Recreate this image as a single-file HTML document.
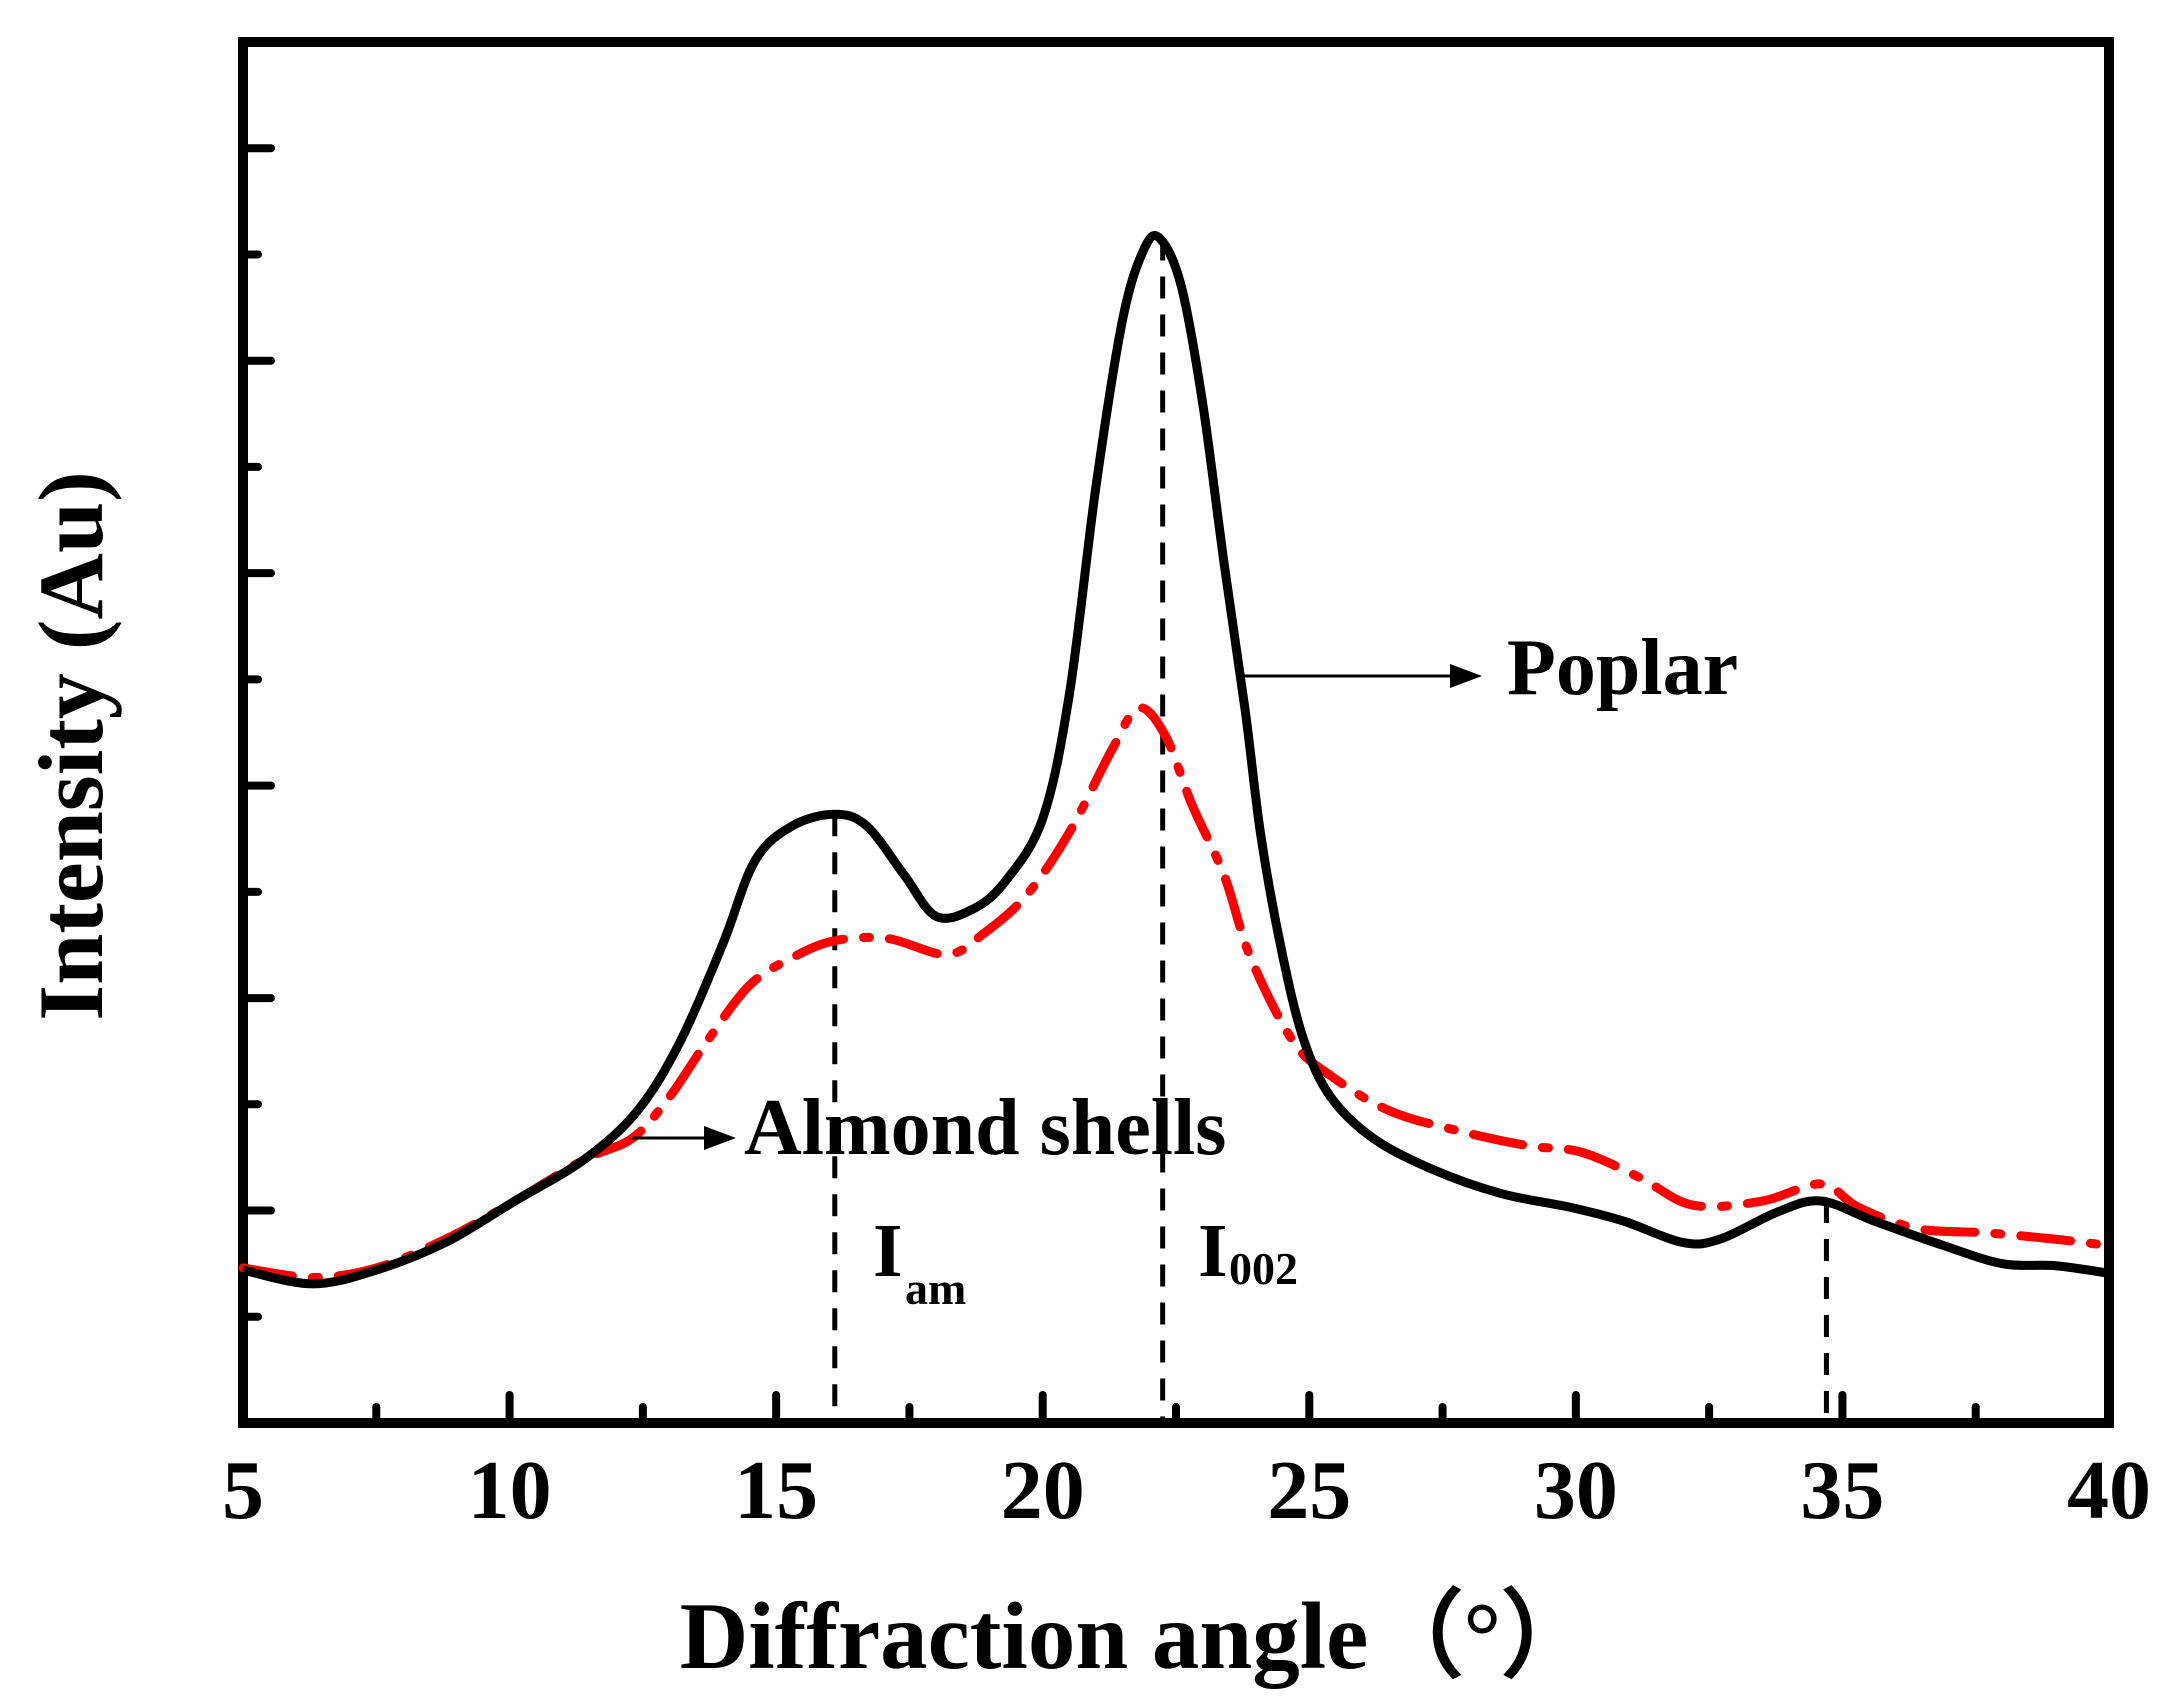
<!DOCTYPE html>
<html><head><meta charset="utf-8"><style>
html,body{margin:0;padding:0;background:#fff}
svg{display:block}
text{font-family:"Liberation Serif","Times New Roman",serif;font-weight:bold;fill:#000}
</style></head><body>
<svg id="chart" width="2169" height="1707" viewBox="0 0 2169 1707" xmlns="http://www.w3.org/2000/svg">
<g id="axes"></g>
<g id="series"></g>
<g id="labels"></g>
</svg>
<script>
const poplarX=[5,6.3,7.5,8.8,10.1,11.4,12.4,13.2,14.0,14.6,15.3,16.1,16.7,17.4,18.0,18.7,19.3,20.0,20.5,21.0,21.5,21.9,22.2,22.6,23.0,23.4,23.8,24.1,24.5,24.9,25.4,26.2,27.3,28.6,29.9,30.9,32.0,32.7,33.8,34.6,35.6,36.9,38.0,39.0,40];
const poplarY=[1.44,1.31,1.44,1.70,2.09,2.48,2.94,3.59,4.51,5.29,5.62,5.73,5.62,5.16,4.77,4.84,5.10,5.69,6.86,8.82,10.39,11.05,11.15,10.7,9.6,8.1,6.7,5.5,4.4,3.6,3.07,2.68,2.39,2.16,2.03,1.90,1.70,1.73,1.99,2.09,1.90,1.67,1.50,1.48,1.41];
const almondX=[5,6.3,7.5,8.8,10.1,11.4,12.3,13.0,13.7,14.5,15.3,16.1,17.1,18.2,18.9,19.7,20.5,21.3,21.8,22.3,22.8,23.4,23.9,24.7,25.4,26.5,27.8,29.1,30.1,31.2,32.2,33.5,34.6,35.3,36.4,37.7,39.0,40];
const almondY=[1.46,1.37,1.46,1.73,2.09,2.48,2.68,3.07,3.59,4.12,4.38,4.54,4.56,4.41,4.61,4.97,5.56,6.34,6.73,6.47,5.82,5.16,4.38,3.59,3.27,2.94,2.75,2.61,2.55,2.31,2.05,2.09,2.25,2.03,1.83,1.79,1.73,1.67];
const xTicks=[5,10,15,20,25,30,35,40];
const xMinor=[7.5,12.5,17.5,22.5,27.5,32.5,37.5];
const yTicks=[1,2,3,4,5,6,7,8,9,10,11,12];
const markerX=[16.1,22.25,34.7];
const markerY=[5.73,11.15,2.09];

const L=243,R=2109,T=42,B=1423;
const sx=v=>L+(v-5)*(R-L)/35;
const sy=v=>B-v*(B-T)/13;
const NS='http://www.w3.org/2000/svg';
function mk(tag,attrs,parent){const e=document.createElementNS(NS,tag);for(const k in attrs)e.setAttribute(k,attrs[k]);parent.appendChild(e);return e;}
const axes=document.getElementById('axes'),series=document.getElementById('series'),labels=document.getElementById('labels');

const frame=mk('rect',{x:L,y:T,width:R-L,height:B-T,fill:'none',stroke:'#000','stroke-width':10},axes);



xTicks.forEach(v=>{
 const t=mk('line',{x1:sx(v),x2:sx(v),y1:B,y2:B-28,stroke:'#000','stroke-width':8,'stroke-linecap':'round'},axes);
 
 
 const lb=mk('text',{x:sx(v),y:1518,'font-size':84,'text-anchor':'middle'},labels);
 lb.textContent=v;
 
 
});
xMinor.forEach(v=>{
 const t=mk('line',{x1:sx(v),x2:sx(v),y1:B,y2:B-16,stroke:'#000','stroke-width':8,'stroke-linecap':'round'},axes);
 
 
});
yTicks.forEach(v=>{
 const len=v%2===0?28:15;
 const t=mk('line',{x1:L,x2:L+len,y1:sy(v),y2:sy(v),stroke:'#000','stroke-width':8,'stroke-linecap':'round'},axes);
 
 
});

function pathFrom(xs,ys){
 const p=xs.map((x,i)=>[sx(x),sy(ys[i])]);
 let d='M'+p[0][0]+','+p[0][1];
 for(let i=0;i<p.length-1;i++){
  const p0=p[i-1]||p[i],p1=p[i],p2=p[i+1],p3=p[i+2]||p2;
  const c1x=p1[0]+(p2[0]-p0[0])/6,c1y=p1[1]+(p2[1]-p0[1])/6;
  const c2x=p2[0]-(p3[0]-p1[0])/6,c2y=p2[1]-(p3[1]-p1[1])/6;
  d+=' C'+c1x+','+c1y+' '+c2x+','+c2y+' '+p2[0]+','+p2[1];
 }
 return d;
}
markerX.forEach((v,i)=>{
 const m=mk('line',{x1:sx(v),x2:sx(v),y1:sy(markerY[i]),y2:B,stroke:'#000','stroke-width':5,'stroke-dasharray':'22 16'},series);
 
 
});
const pa=mk('path',{d:pathFrom(almondX,almondY),fill:'none',stroke:'#ff0000','stroke-width':9,'stroke-dasharray':'50 20 6 20','stroke-linecap':'round'},series);


const pp=mk('path',{d:pathFrom(poplarX,poplarY),fill:'none',stroke:'#000','stroke-width':9,'stroke-linejoin':'round'},series);


</script>
<svg style="position:absolute;left:0;top:0" width="2169" height="1707">
<line x1="1240" y1="676" x2="1460" y2="676" stroke="#000" stroke-width="3"/>
<path d="M1450,664 L1482,676 L1450,688 z" fill="#000"/>
<text x="1507" y="694" font-size="80">Poplar</text>
<line x1="632" y1="1138" x2="712" y2="1138" stroke="#000" stroke-width="3"/>
<path d="M704,1126 L736,1138 L704,1150 z" fill="#000"/>
<text x="744" y="1154" font-size="80">Almond shells</text>
<text x="873" y="1276" font-size="76">I</text>
<text x="905" y="1304" font-size="46">am</text>
<text x="1198" y="1276" font-size="76">I</text>
<text x="1229" y="1284" font-size="46">002</text>
<text x="1138" y="1668" font-size="95" text-anchor="middle">Diffraction angle（°）</text>
<text transform="translate(102,746) rotate(-90)" font-size="92" text-anchor="middle">Intensity (Au)</text>
</svg>
</body></html>
